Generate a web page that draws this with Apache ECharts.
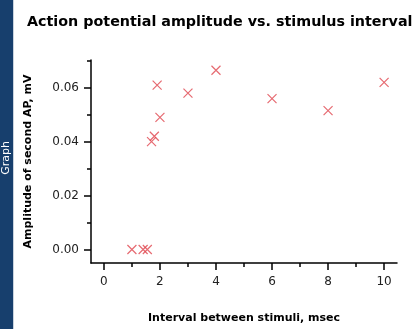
<!DOCTYPE html>
<html>
<head>
<meta charset="utf-8">
<script src="https://cdn.jsdelivr.net/npm/echarts@6/dist/echarts.min.js"></script>
<style>
  html, body { margin: 0; padding: 0; background: #fff; }
  #chart { width: 418px; height: 329px; }
</style>
</head>
<body>
<div id="chart"></div>
<script>
// Stimulus interval (msec) and amplitude of the second action potential (mV)
const intervals  = [1.0, 1.4, 1.55, 1.7, 1.8, 1.9, 2.0, 3.0, 4.0, 6.0, 8.0, 10.0];
const amplitudes = [0.000, 0.000, 0.000, 0.040, 0.042, 0.061, 0.049, 0.058, 0.0665, 0.056, 0.0515, 0.062];

// Tick positions
const xMajorTicks = [0, 2, 4, 6, 8, 10];
const xMinorTicks = [1, 3, 5, 7, 9];
const yMajorTicks = [0, 0.02, 0.04, 0.06];
const yMinorTicks = [0.01, 0.03, 0.05, 0.07];

const FONT = 'DejaVu Sans';
const X_MIN = -0.46, X_MAX = 10.46;
const Y_MIN = -0.005, Y_MAX = 0.0703;

const points = intervals.map((x, i) => [x, amplitudes[i]]);

const chart = echarts.init(document.getElementById('chart'), null, { renderer: 'canvas' });

const axisLine = { show: true, onZero: false, lineStyle: { color: '#000', width: 1.5 } };

chart.setOption({
  animation: false,
  backgroundColor: '#fff',
  title: {
    text: 'Action potential amplitude vs. stimulus interval',
    left: 22,
    top: 10,
    textStyle: { fontFamily: FONT, fontSize: 14.3, fontWeight: 'bold', color: '#000' }
  },
  grid: { left: 91, right: 21, top: 60, bottom: 66 },
  xAxis: [
    {
      type: 'value', min: X_MIN, max: X_MAX, position: 'bottom',
      name: 'Interval between stimuli, msec',
      nameLocation: 'middle', nameGap: 50,
      nameTextStyle: { fontFamily: FONT, fontSize: 11, fontWeight: 'bold', color: '#000' },
      axisLine: axisLine,
      axisTick: { show: true, length: 7, customValues: xMajorTicks, lineStyle: { color: '#000', width: 1.5 } },
      axisLabel: { customValues: xMajorTicks, fontFamily: FONT, fontSize: 12, color: '#222', margin: 13 },
      splitLine: { show: false }
    },
    {
      type: 'value', min: X_MIN, max: X_MAX, position: 'bottom',
      axisLine: { show: false, onZero: false },
      axisTick: { show: true, length: 4, customValues: xMinorTicks, lineStyle: { color: '#000', width: 1.5 } },
      axisLabel: { show: false },
      splitLine: { show: false }
    }
  ],
  yAxis: [
    {
      type: 'value', min: Y_MIN, max: Y_MAX, position: 'left',
      name: 'Amplitude of second AP, mV',
      nameLocation: 'middle', nameGap: 57,
      nameTextStyle: { fontFamily: FONT, fontSize: 11, fontWeight: 'bold', color: '#000' },
      axisLine: axisLine,
      axisTick: { show: true, length: 7, customValues: yMajorTicks, lineStyle: { color: '#000', width: 1.5 } },
      axisLabel: {
        customValues: yMajorTicks, fontFamily: FONT, fontSize: 12, color: '#222', margin: 12,
        formatter: v => v.toFixed(2)
      },
      splitLine: { show: false }
    },
    {
      type: 'value', min: Y_MIN, max: Y_MAX, position: 'left',
      axisLine: { show: false, onZero: false },
      axisTick: { show: true, length: 4, customValues: yMinorTicks, lineStyle: { color: '#000', width: 1.5 } },
      axisLabel: { show: false },
      splitLine: { show: false }
    }
  ],
  graphic: [
    { type: 'rect', shape: { x: 0, y: 0, width: 13, height: 329 }, style: { fill: '#173f6d' }, silent: true },
    { type: 'rect', shape: { x: 13, y: 0, width: 1, height: 329 }, style: { fill: '#c9d3de' }, silent: true },
    {
      type: 'text', x: 6.5, y: 158, rotation: Math.PI / 2,
      style: { text: 'Graph', fill: '#fff', font: '11px "DejaVu Sans"', align: 'center', verticalAlign: 'middle' },
      silent: true
    }
  ],
  series: [
    {
      type: 'scatter',
      xAxisIndex: 0, yAxisIndex: 0,
      data: points,
      symbol: 'path://M0,0L10,10M10,0L0,10',
      symbolSize: 9,
      itemStyle: { color: 'none', borderColor: '#e0454d', borderWidth: 1.2 }
    }
  ]
});
</script>
</body>
</html>
